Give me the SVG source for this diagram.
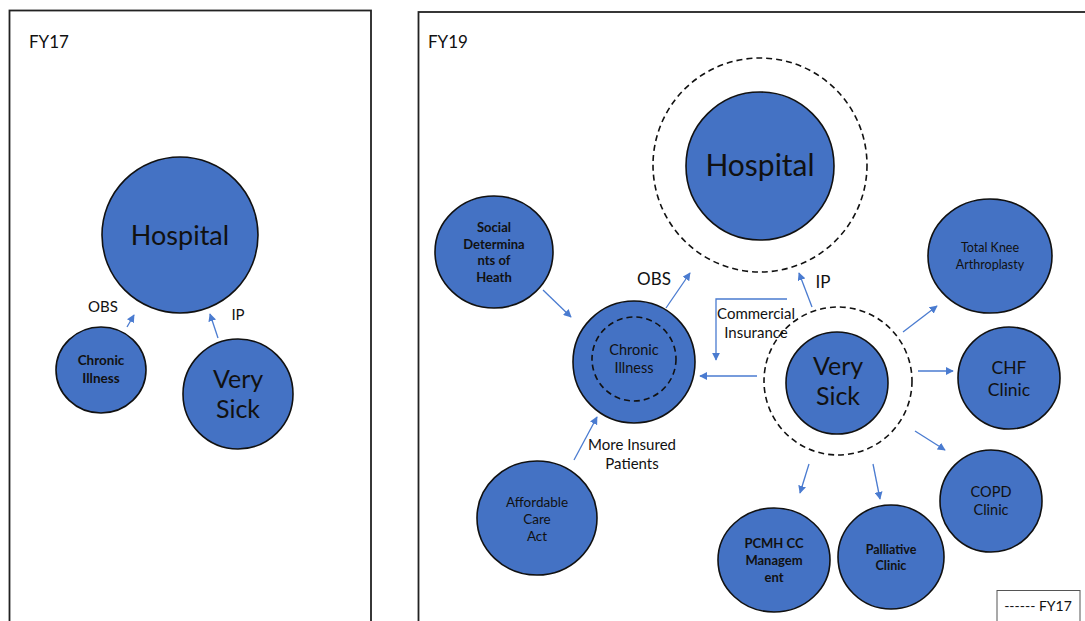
<svg xmlns="http://www.w3.org/2000/svg" width="1085" height="621" viewBox="0 0 1085 621">
<style>
text{font-family:Lato,"Open Sans","Liberation Sans",sans-serif;fill:#111;text-anchor:middle}
.n{fill:#4472C4;stroke:#111;stroke-width:1.6}
.d{fill:none;stroke:#111;stroke-width:1.6;stroke-dasharray:6 4}
.frame{fill:#fff;stroke:#222;stroke-width:1.8}
.c{stroke:#4A7BD0;stroke-width:1.3;fill:none}
.b{font-weight:bold}
</style>
<defs>
<marker id="ah" viewBox="0 0 10 10" refX="9" refY="5" markerWidth="8" markerHeight="8" markerUnits="userSpaceOnUse" orient="auto">
<path d="M0,0 L10,5 L0,10 z" fill="#4A7BD0"/>
</marker>
</defs>
<rect width="1085" height="621" fill="#fff"/>
<rect class="frame" x="9.5" y="10.5" width="361.5" height="620"/>
<rect class="frame" x="418.5" y="12" width="680" height="620"/>
<text x="29" y="48" style="text-anchor:start;font-size:17px">FY17</text>
<text x="428" y="48" style="text-anchor:start;font-size:17px">FY19</text>

<g id="connectors">
<line class="c" x1="127" y1="327" x2="134" y2="315" marker-end="url(#ah)"/>
<line class="c" x1="218" y1="338" x2="210" y2="314" marker-end="url(#ah)"/>
<line class="c" x1="543" y1="290" x2="571" y2="317" marker-end="url(#ah)"/>
<line class="c" x1="666" y1="308" x2="690" y2="273" marker-end="url(#ah)"/>
<line class="c" x1="574" y1="460" x2="597" y2="417" marker-end="url(#ah)"/>
<polyline class="c" points="787,299 716,299 716,360" marker-end="url(#ah)"/>
<line class="c" x1="757" y1="376" x2="700" y2="376" marker-end="url(#ah)"/>
<line class="c" x1="812" y1="307" x2="799" y2="273" marker-end="url(#ah)"/>
<line class="c" x1="903" y1="332" x2="937" y2="306" marker-end="url(#ah)"/>
<line class="c" x1="918" y1="371" x2="953" y2="371" marker-end="url(#ah)"/>
<line class="c" x1="915" y1="431" x2="945" y2="450" marker-end="url(#ah)"/>
<line class="c" x1="873" y1="464" x2="880" y2="499" marker-end="url(#ah)"/>
<line class="c" x1="809" y1="464" x2="800" y2="493" marker-end="url(#ah)"/>
</g>

<g id="labels">
<text x="103" y="312" style="font-size:15px">OBS</text>
<text x="238" y="320" style="font-size:15px">IP</text>
<text x="654" y="285" style="font-size:17px">OBS</text>
<text x="823" y="288" style="font-size:17px">IP</text>
<text x="756" y="319" style="font-size:15px">Commercial</text>
<text x="756" y="338" style="font-size:15px">Insurance</text>
<text x="632" y="450" style="font-size:15px">More Insured</text>
<text x="632" y="469" style="font-size:15px">Patients</text>
</g>

<g id="fy17-hospital">
<ellipse class="n" cx="180" cy="235" rx="78" ry="78"/>
<text x="180" y="245" style="font-size:27px">Hospital</text>
</g>
<g id="fy17-chronic">
<ellipse class="n" cx="101" cy="370" rx="45" ry="43"/>
<text class="b" x="101" y="365" style="font-size:13.5px">Chronic</text>
<text class="b" x="101" y="383" style="font-size:13.5px">Illness</text>
</g>
<g id="fy17-verysick">
<ellipse class="n" cx="238" cy="394" rx="55" ry="55"/>
<text x="238" y="388" style="font-size:25px">Very</text>
<text x="238" y="418" style="font-size:25px">Sick</text>
</g>

<g id="fy19-hospital">
<circle class="d" cx="760" cy="165" r="107"/>
<circle class="n" cx="760" cy="166" r="74"/>
<text x="760" y="176" style="font-size:30px">Hospital</text>
</g>
<g id="social">
<ellipse class="n" cx="494" cy="252" rx="59" ry="56"/>
<text class="b" x="494" y="232" style="font-size:13px">Social</text>
<text class="b" x="494" y="249" style="font-size:13px">Determina</text>
<text class="b" x="494" y="265" style="font-size:13px">nts of</text>
<text class="b" x="494" y="282" style="font-size:13px">Heath</text>
</g>
<g id="fy19-chronic">
<circle class="n" cx="634" cy="362" r="61"/>
<circle class="d" cx="634" cy="359" r="42"/>
<text x="634" y="355" style="font-size:14.5px">Chronic</text>
<text x="634" y="373" style="font-size:14.5px">Illness</text>
</g>
<g id="aca">
<ellipse class="n" cx="537" cy="518" rx="60" ry="57"/>
<text x="537" y="507" style="font-size:13.5px">Affordable</text>
<text x="537" y="524" style="font-size:13.5px">Care</text>
<text x="537" y="541" style="font-size:13.5px">Act</text>
</g>
<g id="fy19-verysick">
<circle class="d" cx="838" cy="381" r="74"/>
<circle class="n" cx="837" cy="383" r="51"/>
<text x="838" y="375" style="font-size:25px">Very</text>
<text x="838" y="405" style="font-size:25px">Sick</text>
</g>
<g id="tka">
<ellipse class="n" cx="990" cy="256" rx="62" ry="57"/>
<text x="990" y="252" style="font-size:12.5px">Total Knee</text>
<text x="990" y="269" style="font-size:12.5px">Arthroplasty</text>
</g>
<g id="chf">
<circle class="n" cx="1009" cy="378" r="51"/>
<text x="1009" y="374" style="font-size:17.5px">CHF</text>
<text x="1009" y="396" style="font-size:17.5px">Clinic</text>
</g>
<g id="copd">
<circle class="n" cx="991" cy="501" r="51"/>
<text x="991" y="497" style="font-size:14.5px">COPD</text>
<text x="991" y="515" style="font-size:14.5px">Clinic</text>
</g>
<g id="palliative">
<ellipse class="n" cx="891" cy="557" rx="53" ry="52"/>
<text class="b" x="891" y="554" style="font-size:12.5px">Palliative</text>
<text class="b" x="891" y="570" style="font-size:12.5px">Clinic</text>
</g>
<g id="pcmh">
<ellipse class="n" cx="774" cy="560" rx="56" ry="52"/>
<text class="b" x="774" y="548" style="font-size:13px">PCMH CC</text>
<text class="b" x="774" y="565" style="font-size:13px">Managem</text>
<text class="b" x="774" y="582" style="font-size:13px">ent</text>
</g>
<g id="legend">
<rect x="997" y="590.5" width="83" height="32" fill="#fff" stroke="#555" stroke-width="1"/>
<text x="1038" y="611" style="font-size:14px">------ FY17</text>
</g>
</svg>
